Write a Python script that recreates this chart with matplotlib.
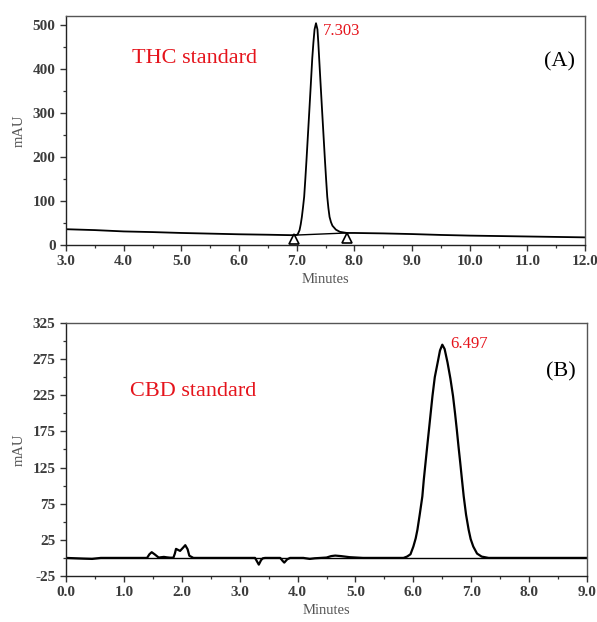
import matplotlib
matplotlib.use("Agg")
import matplotlib.pyplot as plt
from matplotlib.ticker import MultipleLocator

plt.rcParams['font.family'] = ['Liberation Serif', 'DejaVu Serif']
plt.rcParams['axes.unicode_minus'] = False

# Panel A - THC standard chromatogram
thc_time = [3.0, 3.5, 4.0, 4.5, 5.0, 5.5, 6.0, 6.5, 6.9, 7.0, 7.02, 7.05, 7.07, 7.09,
            7.11, 7.13, 7.15, 7.17, 7.195, 7.22, 7.245, 7.27, 7.29, 7.31, 7.335, 7.36,
            7.375, 7.39, 7.415, 7.44, 7.465, 7.49, 7.51, 7.53, 7.55, 7.57, 7.595, 7.62,
            7.68, 7.75, 7.87, 8.0, 8.5, 9.0, 9.5, 10.0, 10.5, 11.0, 11.5, 12.0]
thc_mau = [36, 34, 31, 29.5, 27.5, 26, 24.5, 23.5, 22.5, 23, 25, 34, 47, 64,
           86, 110, 150, 193, 250, 307, 365, 424, 460, 490, 504, 490,
           460, 424, 365, 307, 250, 193, 150, 110, 84, 64, 52, 44,
           35, 30, 27.5, 27.5, 26.5, 25, 23, 21.5, 20.5, 19.5, 18.5, 17.5]
thc_base_time = [6.95, 7.87]
thc_base_mau = [22.5, 27.5]
thc_mark_mau = [13, 17]
thc_peak = 7.303

# Panel B - CBD standard chromatogram
cbd_time = [0.0, 0.3, 0.45, 0.6, 1.40, 1.44, 1.48, 1.53, 1.60, 1.65, 1.69, 1.74, 1.80,
            1.855, 1.88, 1.90, 1.97, 2.02, 2.06, 2.10, 2.13, 2.20, 3.265, 3.30, 3.33,
            3.37, 3.40, 3.44, 3.70, 3.74, 3.77, 3.82, 3.87, 4.10, 4.21, 4.30, 4.50,
            4.58, 4.65, 4.75, 4.9, 5.13, 5.83, 5.89, 5.95, 6.00, 6.04, 6.07, 6.11,
            6.155, 6.18, 6.21, 6.24, 6.27, 6.30, 6.33, 6.37, 6.42, 6.46, 6.50, 6.54,
            6.59, 6.64, 6.685, 6.72, 6.75, 6.78, 6.81, 6.84, 6.87, 6.91, 6.955, 6.99,
            7.035, 7.10, 7.18, 7.30, 9.0]
cbd_mau = [0, -1, -1.4, 0, 0, 5, 7.9, 5, 0.5, 1, 1.4, 0.8, 0.3,
           0.3, 6, 12.5, 9.7, 14, 17.6, 12, 3, 0, 0, -5, -9.3,
           -3, -0.5, 0, 0, -4, -6.5, -2, 0, 0, -1.4, -0.5, 0.5,
           2.5, 3.2, 2.5, 1, 0, 0, 1.8, 5, 15.7, 27, 38.9, 60,
           85, 108, 131.5, 155, 177.8, 201, 224, 250, 270.4, 287, 295, 289,
           270.4, 248, 224, 200, 177.8, 154, 131.5, 108, 85, 60, 38.9, 26,
           15.7, 6, 1.8, 0, 0]
cbd_base_time = [0.0, 9.0]
cbd_base_mau = [0, 0]
cbd_peak = 6.497

red = '#e5141c'
tick_col = '#3c3c3c'
lab_col = '#555555'

fig = plt.figure(figsize=(5.97, 6.22), dpi=100)
axA = fig.add_axes([0.1106, 0.606, 0.8693, 0.368])
axB = fig.add_axes([0.1106, 0.074, 0.8727, 0.4067])


def style(ax):
    for s in ax.spines.values():
        s.set_color('#555555')
        s.set_linewidth(1.0)
    ax.spines['left'].set_color('#222222')
    ax.spines['bottom'].set_color('#222222')
    ax.tick_params(which='both', direction='out', colors='#333333', top=False, right=False)
    ax.tick_params(which='major', length=4, width=1.0, labelsize=11, labelcolor=tick_col)
    ax.tick_params(which='minor', length=2.5, width=0.9)
    for lab in ax.get_xticklabels() + ax.get_yticklabels():
        lab.set_fontweight('bold')
    ax.set_xlabel('Minutes', fontsize=10.5, color=lab_col, labelpad=3)
    ax.set_ylabel('mAU', fontsize=10.5, color=lab_col, labelpad=5)


# --- panel A
axA.plot(thc_time, thc_mau, color='black', lw=1.3)
axA.plot(thc_base_time, thc_base_mau, color='black', lw=1.0)
axA.plot(thc_base_time, thc_mark_mau, ls='none', marker='^', ms=7,
         mfc='white', mec='black', mew=1.2)
axA.set_xlim(3, 12)
axA.set_ylim(0, 520)
axA.xaxis.set_minor_locator(MultipleLocator(0.5))
axA.yaxis.set_minor_locator(MultipleLocator(50))
axA.set_xticks(range(3, 13))
axA.set_xticklabels([f'{v:.1f}' for v in range(3, 13)])
axA.set_yticks(range(0, 501, 100))
style(axA)
axA.text(4.14, 423, 'THC standard', color=red, fontsize=16, ha='left', va='center')
axA.text(11.83, 417, '(A)', color='black', fontsize=16, ha='right', va='center')
axA.text(7.46, 486, f'{thc_peak:.3f}', color=red, fontsize=12, ha='left', va='center')

# --- panel B
axB.plot(cbd_base_time, cbd_base_mau, color='black', lw=1.0)
axB.plot(cbd_time, cbd_mau, color='black', lw=1.6)
axB.set_xlim(0, 9)
axB.set_ylim(-25, 325)
axB.xaxis.set_minor_locator(MultipleLocator(0.5))
axB.yaxis.set_minor_locator(MultipleLocator(25))
axB.set_xticks(range(0, 10))
axB.set_xticklabels([f'{v:.1f}' for v in range(0, 10)])
axB.set_yticks(range(-25, 326, 50))
style(axB)
axB.text(1.105, 230, 'CBD standard', color=red, fontsize=16, ha='left', va='center')
axB.text(8.80, 258, '(B)', color='black', fontsize=16, ha='right', va='center')
axB.text(6.63, 296, f'{cbd_peak:.3f}', color=red, fontsize=12, ha='left', va='center')

fig.savefig('out.png', dpi=100)
